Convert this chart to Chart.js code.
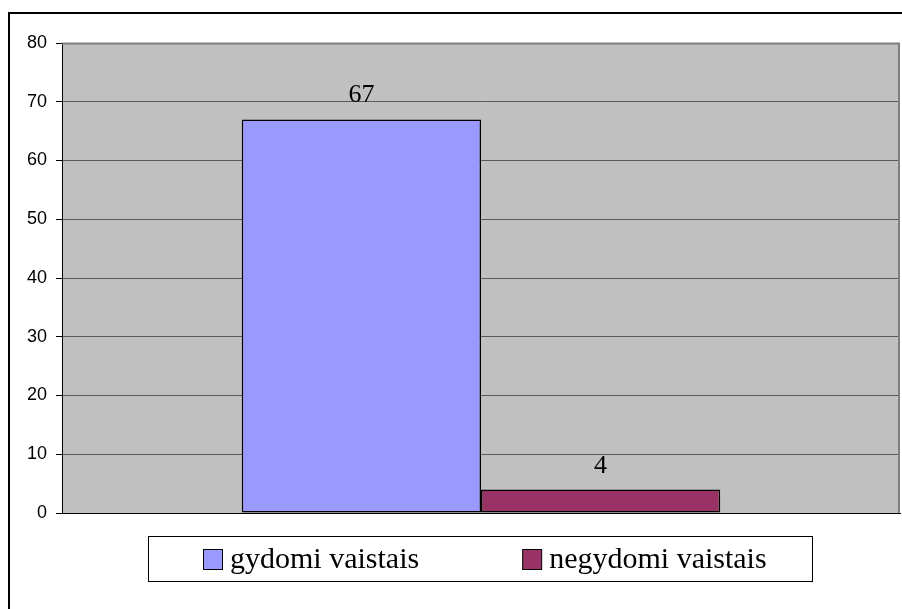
<!DOCTYPE html>
<html lang="lt">
<head>
  <meta charset="UTF-8" />
  <title>Vaistai</title>
  <script src="https://cdn.jsdelivr.net/npm/chart.js"></script>
  <style>
    html, body { margin: 0; padding: 0; background: #fff; }
    #wrap { width: 902px; height: 609px; position: relative; }
  </style>
</head>
<body>
  <div id="wrap"><canvas id="chartCanvas" width="902" height="609"></canvas></div>

  <script>
    // duomenys
    const categories = [''];
    const seriesNames = ['gydomi vaistais', 'negydomi vaistais'];
    const seriesValues = [[67], [4]];
    const seriesColors = ['#9999FF', '#993366'];
    const yTicks = [0, 10, 20, 30, 40, 50, 60, 70, 80];

    // pilkas fonas, rėmelis aplink visą diagramą
    const framePlugin = {
      id: 'frame',
      beforeDraw(chart) {
        const ctx = chart.ctx, a = chart.chartArea;
        ctx.save();
        ctx.fillStyle = '#fff';
        ctx.fillRect(0, 0, chart.width, chart.height);
        ctx.strokeStyle = '#000';
        ctx.lineWidth = 2;
        ctx.strokeRect(9, 13, chart.width + 20, chart.height + 20);
        ctx.fillStyle = '#C0C0C0';
        ctx.fillRect(a.left, a.top, a.right - a.left, a.bottom - a.top);
        ctx.restore();
      },
      afterDatasetsDraw(chart) {
        const ctx = chart.ctx, a = chart.chartArea;
        ctx.save();
        ctx.strokeStyle = '#808080';
        ctx.lineWidth = 2;
        ctx.beginPath();
        ctx.moveTo(a.left, a.top + 0.5);
        ctx.lineTo(a.right - 1, a.top + 0.5);
        ctx.lineTo(a.right - 1, a.bottom);
        ctx.stroke();
        ctx.restore();
      }
    };

    // reikšmės virš stulpelių
    const labelsPlugin = {
      id: 'valueLabels',
      afterDatasetsDraw(chart) {
        const ctx = chart.ctx;
        ctx.save();
        ctx.font = '26px "Liberation Serif", "Times New Roman", serif';
        ctx.fillStyle = '#000';
        ctx.textAlign = 'center';
        ctx.textBaseline = 'alphabetic';
        chart.data.datasets.forEach((ds, i) => {
          chart.getDatasetMeta(i).data.forEach((bar, j) => {
            ctx.fillText(String(ds.data[j]), bar.x, bar.y - 17);
          });
        });
        ctx.restore();
      }
    };

    // legenda rėmelyje apačioje
    const legendPlugin = {
      id: 'boxLegend',
      afterDraw(chart) {
        const ctx = chart.ctx, a = chart.chartArea;
        const boxW = 664, boxH = 45;
        const cx = (a.left + a.right) / 2;
        const left = Math.round(cx - boxW / 2 - 1) + 0.5;
        const top = Math.round(a.bottom + 23) + 0.5;
        ctx.save();
        ctx.fillStyle = '#fff';
        ctx.fillRect(left, top, boxW, boxH);
        ctx.strokeStyle = '#000';
        ctx.lineWidth = 1;
        ctx.strokeRect(left, top, boxW, boxH);

        ctx.font = '30px "Liberation Serif", "Times New Roman", serif';
        ctx.textBaseline = 'middle';
        const sw = 19, gapText = 8, gapItem = 103;
        const widths = chart.data.datasets.map(ds => sw + gapText + ctx.measureText(ds.label).width);
        const total = widths.reduce((s, w) => s + w, 0) + gapItem * (widths.length - 1);
        let x = Math.round(cx - total / 2 + 4);
        const midY = top + boxH / 2;
        chart.data.datasets.forEach((ds, i) => {
          ctx.fillStyle = ds.backgroundColor;
          ctx.fillRect(x + 0.5, Math.round(midY - 10) + 0.5, sw, 20);
          ctx.strokeStyle = '#000';
          ctx.strokeRect(x + 0.5, Math.round(midY - 10) + 0.5, sw, 20);
          ctx.fillStyle = '#000';
          ctx.fillText(ds.label, x + sw + gapText, midY + 1);
          x += widths[i] + gapItem;
        });
        ctx.restore();
      }
    };

    const ctx = document.getElementById('chartCanvas').getContext('2d');
    new Chart(ctx, {
      type: 'bar',
      data: {
        labels: categories,
        datasets: seriesNames.map((name, i) => ({
          label: name,
          data: seriesValues[i],
          backgroundColor: seriesColors[i],
          borderColor: '#000',
          borderWidth: 1.5,
          borderSkipped: false,
          categoryPercentage: 0.571,
          barPercentage: 1.0
        }))
      },
      options: {
        responsive: false,
        animation: false,
        devicePixelRatio: 1,
        layout: { padding: { left: 0, top: 43, right: 2, bottom: 96 } },
        plugins: {
          legend: { display: false },
          tooltip: { enabled: false }
        },
        scales: {
          x: {
            grid: { display: false },
            ticks: { display: false },
            border: { display: true, color: '#000', width: 1 },
            afterFit(scale) { scale.height = 0; }
          },
          y: {
            min: yTicks[0],
            max: yTicks[yTicks.length - 1],
            afterBuildTicks(scale) { scale.ticks = yTicks.map(v => ({ value: v })); },
            grid: { color: '#5a5a5a', lineWidth: 1, tickLength: 6, tickColor: '#000', drawOnChartArea: true },
            border: { display: true, color: '#000', width: 1 },
            ticks: {
              padding: 9,
              color: '#000',
              font: { family: '"Liberation Sans", Arial, sans-serif', size: 18 }
            },
            afterFit(scale) { scale.width = 62; }
          }
        }
      },
      plugins: [framePlugin, labelsPlugin, legendPlugin]
    });
  </script>
</body>
</html>
